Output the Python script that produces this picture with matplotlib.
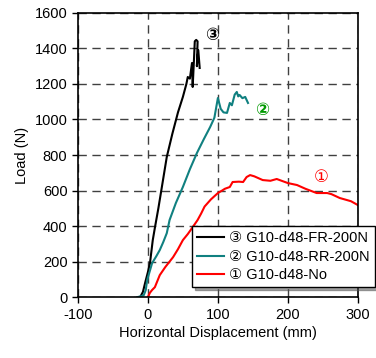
import matplotlib
matplotlib.use("Agg")
import matplotlib.pyplot as plt

plt.rcParams['font.family'] = ['Liberation Sans', 'DejaVu Sans']
plt.rcParams['axes.unicode_minus'] = False

# (3) G10-d48-FR-200N
fr_x = [-11, -7, -4, 0, 3, 7, 10, 15, 20, 27, 35, 43, 50, 55, 57, 60, 63, 64, 66, 67, 69, 71, 70, 72, 74]
fr_y = [0, 30, 79, 140, 191, 321, 390, 500, 620, 789, 920, 1040, 1127, 1200, 1239, 1230, 1318, 1183,
        1350, 1440, 1448, 1440, 1300, 1390, 1290]

# (2) G10-d48-RR-200N
rr_x = [-15, -10, -6, -3, -1, 3, 6, 12, 17, 22, 27, 31, 40, 50, 60, 70, 80, 89, 95, 100, 104, 108,
        113, 117, 120, 124, 127, 129, 131, 135, 139, 143]
rr_y = [0, 5, 10, 40, 96, 150, 191, 230, 265, 310, 360, 434, 530, 620, 720, 811, 890, 958, 1010,
        1121, 1060, 1040, 1037, 1093, 1080, 1140, 1155, 1130, 1138, 1120, 1127, 1093]

# (1) G10-d48-No
no_x = [0, 3, 6, 10, 17, 25, 36, 43, 50, 57, 64, 71, 76, 81, 90, 100, 106, 110, 117, 121, 130, 136,
        141, 146, 152, 164, 175, 184, 200, 213, 225, 241, 256, 262, 274, 290, 300]
no_y = [0, 25, 40, 56, 124, 170, 225, 270, 321, 355, 394, 434, 470, 510, 550, 586, 600, 610, 620, 648,
        650, 648, 676, 687, 680, 659, 655, 665, 642, 631, 610, 586, 586, 580, 558, 540, 518]

fig = plt.figure(figsize=(3.76, 3.58), dpi=100)
ax = fig.add_axes([0.207, 0.170, 0.745, 0.794])

ax.plot(fr_x, fr_y, color='black', lw=1.5, label='③ G10-d48-FR-200N')
ax.plot(rr_x, rr_y, color='#108080', lw=1.5, label='② G10-d48-RR-200N')
ax.plot(no_x, no_y, color='#ff0000', lw=1.5, label='① G10-d48-No')

ax.set_xlim(-100, 300)
ax.set_ylim(0, 1600)
ax.set_xticks([-100, 0, 100, 200, 300])
ax.set_yticks(range(0, 1601, 200))
ax.grid(True, color='#404040', ls=(0, (6, 4)), lw=1)
ax.tick_params(labelsize=10.5, length=4, width=1, direction='out')
for s in ax.spines.values():
    s.set_linewidth(1.2)

ax.set_xlabel('Horizontal Displacement (mm)', fontsize=10.5, labelpad=3)
ax.set_ylabel('Load (N)', fontsize=10.5)

ax.text(91, 1470, '③', fontsize=12, fontweight='bold', color='black', ha='center', va='center')
ax.text(163, 1048, '②', fontsize=12, fontweight='bold', color='#009900', ha='center', va='center')
ax.text(248, 676, '①', fontsize=12, color='#ff0000', ha='center', va='center')

leg = ax.legend(loc='lower right', bbox_to_anchor=(1.06, 0.035), fontsize=10.5, frameon=True,
                fancybox=False, shadow=True, edgecolor='black', handlelength=1.85,
                borderpad=0.35, labelspacing=0.3, handletextpad=0.35, borderaxespad=0)
leg.get_frame().set_linewidth(1)

fig.savefig('out.png', dpi=100)
